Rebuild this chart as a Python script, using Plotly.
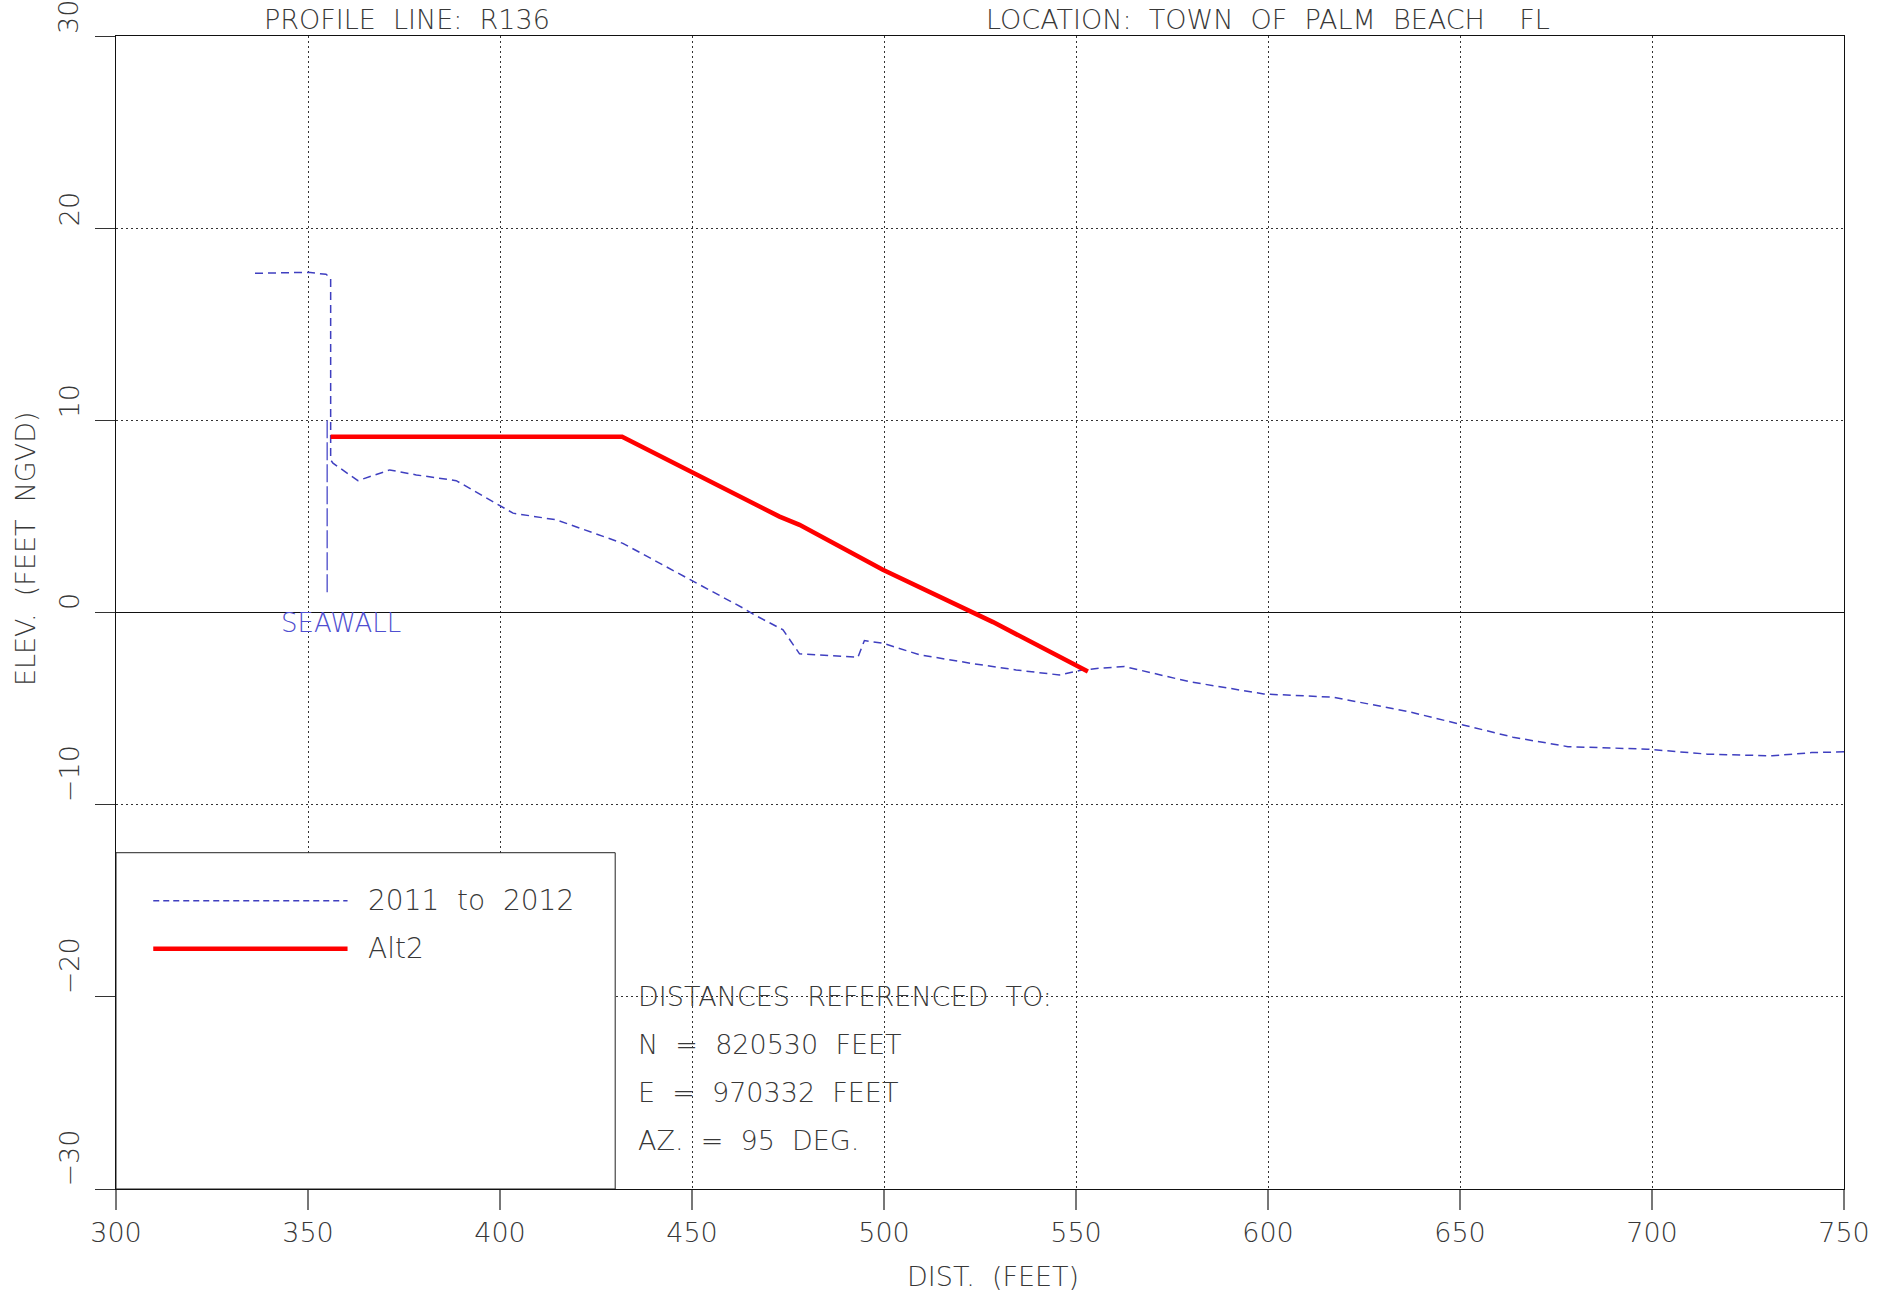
import plotly.graph_objects as go

# ---------------- data ----------------
profile_x = [336.2, 350.0, 354.7, 355.9, 355.9, 356.5, 363.0, 371.3, 378.2, 388.6, 403.4, 414.7,
             432.0, 445.9, 449.4, 463.4, 466.3, 473.7, 478.0, 493.2, 494.9, 499.7, 509.3, 522.8,
             534.4, 545.7, 550.9, 556.1, 562.6, 579.5, 598.9, 617.1, 636.6, 650.8, 663.8, 678.1,
             698.8, 714.4, 731.3, 741.6, 750.0]
profile_y = [17.65, 17.7, 17.6, 17.4, 7.94, 7.77, 6.86, 7.42, 7.16, 6.86, 5.17, 4.82,
             3.6, 2.13, 1.72, 0.22, -0.13, -0.9, -2.15, -2.33, -1.46, -1.6, -2.2, -2.65,
             -2.99, -3.25, -3.02, -2.9, -2.81, -3.6, -4.24, -4.41, -5.16, -5.85, -6.49, -6.98,
             -7.11, -7.37, -7.46, -7.29, -7.25]

alt2_x = [355.9, 431.8, 472.8, 478.0, 499.7, 522.3, 528.4, 553.1]
alt2_y = [9.15, 9.15, 4.99, 4.56, 2.22, 0.05, -0.5, -3.07]

seawall_x = [355.0, 355.0]
seawall_y = [10.0, 1.0]

x_ticks = [300, 350, 400, 450, 500, 550, 600, 650, 700, 750]
y_ticks = [-30, -20, -10, 0, 10, 20, 30]
y_tick_labels = ["\u221230", "\u221220", "\u221210", "0", "10", "20", "30"]

NB = "\u00a0"
series_names = ["2011" + NB * 2 + "to" + NB * 2 + "2012", "Alt2"]
header_left = "PROFILE" + NB * 2 + "LINE:" + NB * 2 + "R136"
header_right = ("LOCATION:" + NB * 2 + "TOWN" + NB * 2 + "OF" + NB * 2 + "PALM" + NB * 2 +
                "BEACH" + NB * 4 + "FL")
ref_lines = ["DISTANCES" + NB * 2 + "REFERENCED" + NB * 2 + "TO:",
             "N" + NB * 2 + "=" + NB * 2 + "820530" + NB * 2 + "FEET",
             "E" + NB * 2 + "=" + NB * 2 + "970332" + NB * 2 + "FEET",
             "AZ." + NB * 2 + "=" + NB * 2 + "95" + NB * 2 + "DEG."]
x_title = "DIST." + NB * 2 + "(FEET)"
y_title = "ELEV." + NB * 2 + "(FEET" + NB * 2 + "NGVD)"
seawall_label = "SEAWALL"

# ---------------- styles ----------------
FONT = "DejaVu Sans"
TXT = "#383838"
BLUE = "#3f3fc0"
RED = "#ff0000"
FS = 28


def tfont(size=FS, color=TXT):
    return dict(family=FONT, size=size, color=color, weight=200)


fig = go.Figure()
fig.add_trace(go.Scatter(x=seawall_x, y=seawall_y, mode="lines",
                         line=dict(color="#6a6ad2", width=1.6, dash="18px,4px"),
                         hoverinfo="skip"))
fig.add_trace(go.Scatter(x=profile_x, y=profile_y, mode="lines", name=series_names[0],
                         line=dict(color=BLUE, width=1.5, dash="8px,5px")))
fig.add_trace(go.Scatter(x=alt2_x, y=alt2_y, mode="lines", name=series_names[1],
                         line=dict(color=RED, width=4.5)))

shapes = [
    dict(type="rect", xref="x", yref="y", x0=300, x1=430, y0=-30, y1=-12.5,
         fillcolor="white", line=dict(color="#222", width=1), layer="above"),
    dict(type="line", xref="x", yref="y", x0=309.7, x1=360.3, y0=-15, y1=-15,
         line=dict(color=BLUE, width=1.5, dash="6px,4px"), layer="above"),
    dict(type="line", xref="x", yref="y", x0=309.7, x1=360.3, y0=-17.5, y1=-17.5,
         line=dict(color=RED, width=4.5), layer="above"),
]

annotations = []
for lbl, yv in zip(series_names, [-15, -17.5]):
    annotations.append(dict(x=365, y=yv, xref="x", yref="y", text=lbl, showarrow=False,
                            xanchor="left", yanchor="middle", font=tfont()))
for i, t in enumerate(ref_lines):
    annotations.append(dict(x=435.5, y=-20 - 2.5 * i, xref="x", yref="y", text=t,
                            showarrow=False, xanchor="left", yanchor="middle", font=tfont(27)))
annotations.append(dict(x=358.5, y=-0.55, xref="x", yref="y", text=seawall_label,
                        showarrow=False, xanchor="center", yanchor="middle",
                        font=tfont(26, "#4f4fd0")))
for v, lbl in zip(y_ticks, y_tick_labels):
    annotations.append(dict(x=0, xref="paper", xshift=-47, y=v, yref="y", text=lbl,
                            showarrow=False, textangle=-90, xanchor="center",
                            yanchor="bottom", font=tfont(27)))
annotations.append(dict(x=0, xref="paper", xshift=-91, y=0.555, yref="paper", text=y_title,
                        showarrow=False, textangle=-90, xanchor="center", yanchor="middle",
                        font=tfont(27)))
annotations.append(dict(x=0.5075, xref="paper", y=0, yref="paper", yshift=-87, text=x_title,
                        showarrow=False, xanchor="center", yanchor="middle", font=tfont(27)))
annotations.append(dict(x=0.0843, xref="paper", y=1, yref="paper", yshift=17, text=header_left,
                        showarrow=False, xanchor="left", yanchor="middle", font=tfont(27)))
annotations.append(dict(x=0.5025, xref="paper", y=1, yref="paper", yshift=17, text=header_right,
                        showarrow=False, xanchor="left", yanchor="middle", font=tfont(27)))

fig.update_layout(
    width=1881, height=1295,
    margin=dict(l=116, r=37, t=36, b=106),
    paper_bgcolor="white", plot_bgcolor="white",
    showlegend=False,
    shapes=shapes, annotations=annotations,
    xaxis=dict(range=[300, 750], tickvals=x_ticks, ticktext=[str(v) for v in x_ticks],
               showgrid=True, gridcolor="#333", gridwidth=1, griddash="2px,3px",
               zeroline=False, showline=True, linecolor="#111", linewidth=1, mirror=True,
               ticks="outside", ticklen=20, tickcolor="#777", tickwidth=1.5,
               tickfont=tfont(27)),
    yaxis=dict(range=[-30, 30], tickvals=y_ticks, showticklabels=False,
               showgrid=True, gridcolor="#333", gridwidth=1, griddash="2px,3px",
               zeroline=True, zerolinecolor="#111", zerolinewidth=1,
               showline=True, linecolor="#111", linewidth=1, mirror=True,
               ticks="outside", ticklen=20, tickcolor="#333", tickwidth=1),
)

fig.write_html("out.html", config={"displayModeBar": False},
               post_script="document.body.style.margin='0';document.body.style.padding='0';")
